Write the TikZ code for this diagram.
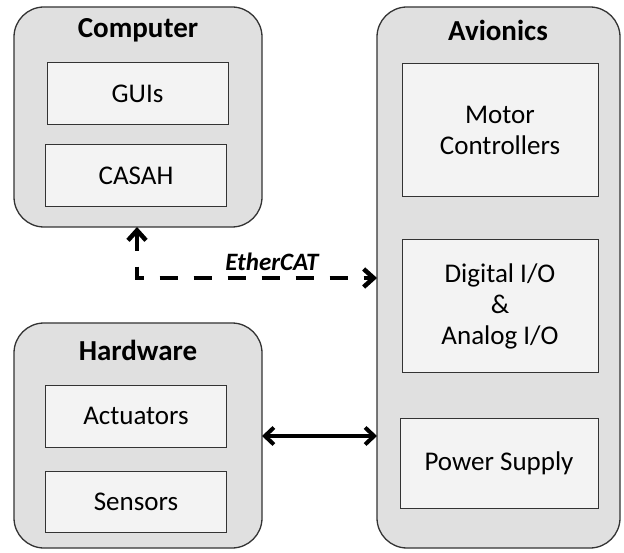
\documentclass[tikz,border=0pt]{standalone}
\usepackage{fontspec}
\setmainfont{Carlito}
\usetikzlibrary{arrows.meta}
\definecolor{outerfill}{HTML}{E0E0E0}
\definecolor{innerfill}{HTML}{F3F3F3}
\definecolor{edge}{HTML}{333333}
\begin{document}
\begin{tikzpicture}[x=1pt,y=-1pt,
  outer/.style={draw=edge,line width=1.3pt,fill=outerfill,rounded corners=30pt},
  inner/.style={draw=edge,line width=1pt,fill=innerfill,align=center,font=\fontsize{27}{31}\selectfont},
  title/.style={font=\fontsize{29}{32}\selectfont\bfseries},
  barbd/.tip={Straight Barb[length=10pt,width=18pt,line width=4.5pt]},
  barbs/.tip={Straight Barb[length=9pt,width=17pt,line width=4pt]},
]
\useasboundingbox (0,0) rectangle (624,553);
% outer boxes
\draw[outer] (14,7) rectangle (262,227);
\draw[outer] (14,323) rectangle (262,548);
\draw[outer] (377,7) rectangle (620,548);
\coordinate (compb) at (137,227);
\coordinate (corner) at (137,278);
\coordinate (avL1) at (377,278);
\coordinate (hwR) at (262,436);
\coordinate (avL2) at (377,436);
% titles
\node[title] (tcomp) at (138,30) {Computer};
\node[title] (thw) at (138,350) {Hardware};
\node[title] (tav) at (498,30) {Avionics};
% inner boxes
\node[inner,minimum width=181pt,minimum height=62pt] (gui) at (137.5,94) {GUIs};
\node[inner,minimum width=181pt,minimum height=62pt] (casah) at (136,176) {CASAH};
\node[inner,minimum width=181pt,minimum height=62pt] (act) at (136,416) {Actuators};
\node[inner,minimum width=181pt,minimum height=61pt] (sens) at (136,502) {Sensors};
\node[inner,minimum width=196pt,minimum height=133pt] (motor) at (500,130) {Motor\\Controllers};
\node[inner,minimum width=196pt,minimum height=133pt] (dio) at (500,306) {Digital I/O\\\&\\Analog I/O};
\node[inner,minimum width=198pt,minimum height=90pt] (pwr) at (499,463) {Power Supply};
% connectors
\draw[line width=4pt,dash pattern=on 18pt off 16pt,barbd-barbd] (compb) -- (corner) -- (avL1);
\draw[line width=3.2pt,barbs-barbs] (hwR) -- (avL2);
\node[font=\fontsize{25}{28}\selectfont\bfseries\itshape] (eth) at (272,262) {EtherCAT};
\end{tikzpicture}
\end{document}
